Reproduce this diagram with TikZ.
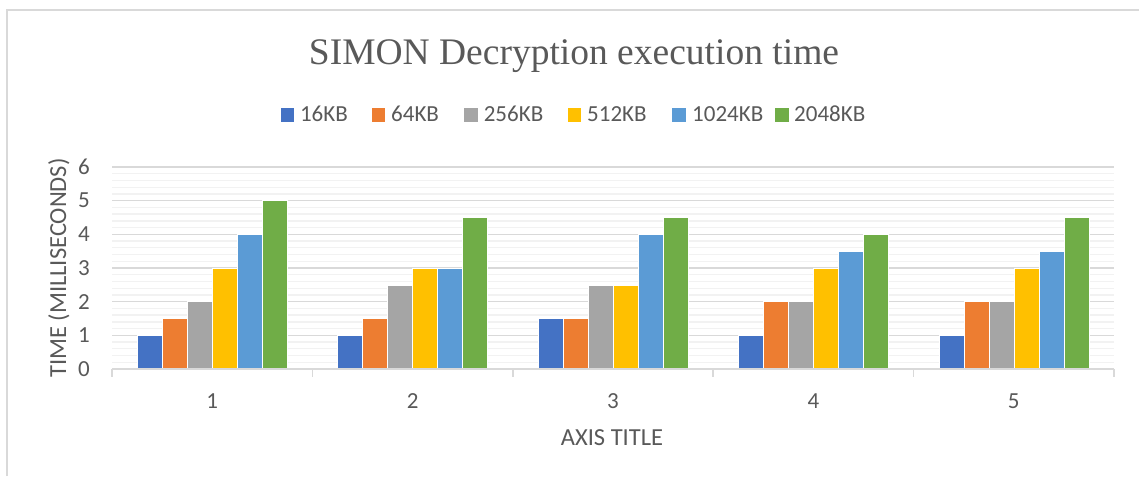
\documentclass[tikz,border=0pt]{standalone}
\usepackage{fontspec}
\setmainfont{Carlito}
\newfontfamily\titlefont{Liberation Serif}
\definecolor{txt}{HTML}{595959}
\definecolor{framec}{HTML}{D9D9D9}
\definecolor{majorc}{HTML}{D9D9D9}
\definecolor{minorc}{HTML}{F2F2F2}
\definecolor{axisc}{HTML}{D9D9D9}
\definecolor{cA}{HTML}{4472C4}
\definecolor{cB}{HTML}{ED7D31}
\definecolor{cC}{HTML}{A5A5A5}
\definecolor{cD}{HTML}{FFC000}
\definecolor{cE}{HTML}{5B9BD5}
\definecolor{cF}{HTML}{70AD47}
\tikzset{
  lbl/.style={text=txt, font=\fontsize{23}{27}\selectfont, inner sep=0pt},
  axt/.style={text=txt, font=\fontsize{24.5}{28}\selectfont, inner sep=0pt},
  minorline/.style={draw=minorc, line width=1.3pt},
  majorline/.style={draw=majorc, line width=1.5pt},
  barbox/.style={draw=white, line width=0.4pt},
  legbox/.style={inner sep=0pt, minimum size=13.5pt},
}
\begin{document}
\begin{tikzpicture}[x=1pt,y=-1pt]
\useasboundingbox (0,0) rectangle (1139,476);
\fill[white] (0,0) rectangle (1139,476);
\draw[framec, line width=1.5pt] (7,476) -- (7,10) -- (1139,10);
% title
\node[text=txt, font=\titlefont\fontsize{37.5}{42}\selectfont, inner sep=0pt, anchor=base] (title) at (574,65) {SIMON Decryption execution time};
% legend
\foreach \c/\xs/\xt/\t [count=\i] in {cA/287.3/299.8/16KB, cB/378.4/391/64KB, cC/470.8/483.6/256KB, cD/574.5/587/512KB, cE/678.8/692/1024KB, cF/781.8/794/2048KB}{
  \node[legbox, fill=\c] (leg\i) at (\xs,115) {};
  \node[lbl, anchor=base west] (legt\i) at (\xt,121.7) {\t};
}
% gridlines
\foreach \k in {1,...,30}{
  \draw[minorline] (112,{369-\k*33.67/5}) -- (1114,{369-\k*33.67/5});
}
\foreach \k in {1,...,6}{
  \draw[majorline] (112,{369-\k*33.67}) -- (1114,{369-\k*33.67});
}
% y labels
\foreach \k in {0,...,6}{
  \node[lbl, anchor=east] (yl\k) at (90,{369-\k*33.67}) {\k};
}
\node[axt, rotate=90, anchor=base] (ytitle) at (66,268) {TIME (MILLISECONDS)};
% bars
\foreach \vals [count=\i] in {{1,1.5,2,3,4,5},{1,1.5,2.5,3,3,4.5},{1.5,1.5,2.5,2.5,4,4.5},{1,2,2,3,3.5,4},{1,2,2,3,3.5,4.5}}{
  \foreach \v [count=\j] in \vals {
    \pgfmathsetmacro{\xl}{112+200.4*(\i-0.5)-75+25*(\j-1)}
    \pgfmathsetmacro{\yt}{369-\v*33.67}
    \ifcase\j\or\def\bc{cA}\or\def\bc{cB}\or\def\bc{cC}\or\def\bc{cD}\or\def\bc{cE}\or\def\bc{cF}\fi
    \filldraw[barbox, fill=\bc] (\xl,369) rectangle ({\xl+25},\yt);
  }
  \node[lbl, anchor=base] (xl\i) at ({112+200.4*(\i-0.5)},408) {\i};
}
% axis
\draw[axisc, line width=1.5pt] (112,369) -- (1114,369);
\foreach \k in {0,...,5}{
  \draw[axisc, line width=1.5pt] ({112+200.4*\k},369) -- ({112+200.4*\k},377);
}
\node[axt, anchor=base] (xtitle) at (612,445) {AXIS TITLE};
\end{tikzpicture}
\end{document}
